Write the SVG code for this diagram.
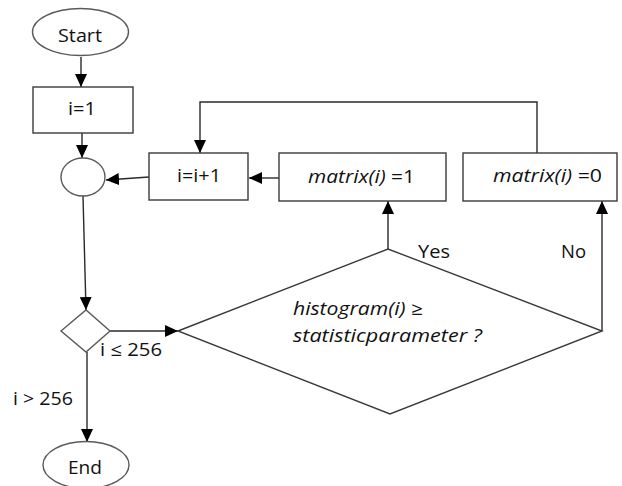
<svg xmlns="http://www.w3.org/2000/svg" width="622" height="486" viewBox="0 0 622 486">
  <style>
    .shape { fill: #ffffff; stroke: #3a3a3a; stroke-width: 1.4; }
    .term { fill: #ffffff; stroke: #5a5a5a; stroke-width: 1.4; }
    .edge { fill: none; stroke: #2a2a2a; stroke-width: 1.4; }
    text { font-family: "Open Sans", "Liberation Sans", sans-serif; font-size: 18px; fill: #111111; }
    .it { font-style: italic; }
  </style>
  <defs>
    <marker id="arrow" markerUnits="userSpaceOnUse" markerWidth="14" markerHeight="12" refX="13" refY="6" orient="auto">
      <path d="M0,0 L13,6 L0,12 Z" fill="#000000"/>
    </marker>
  </defs>

  <rect width="622" height="486" fill="#ffffff"/>

  <!-- connectors -->
  <g id="connectors">
    <line class="edge" x1="81" y1="57" x2="81" y2="87" marker-end="url(#arrow)"/>
    <line class="edge" x1="82" y1="133" x2="82" y2="158" marker-end="url(#arrow)"/>
    <line class="edge" x1="149" y1="177" x2="106" y2="180" marker-end="url(#arrow)"/>
    <line class="edge" x1="279" y1="178" x2="249" y2="178" marker-end="url(#arrow)"/>
    <polyline class="edge" points="537,153 537,102 200,102 200,153" marker-end="url(#arrow)"/>
    <line class="edge" x1="388" y1="249" x2="388" y2="201" marker-end="url(#arrow)"/>
    <line class="edge" x1="602" y1="331" x2="602" y2="201" marker-end="url(#arrow)"/>
    <line class="edge" x1="83" y1="196" x2="86" y2="310" marker-end="url(#arrow)"/>
    <line class="edge" x1="110" y1="331" x2="178" y2="331" marker-end="url(#arrow)"/>
    <line class="edge" x1="87" y1="352" x2="87" y2="442" marker-end="url(#arrow)"/>
    <text x="100" y="356" textLength="62" lengthAdjust="spacingAndGlyphs">i ≤ 256</text>
    <text x="13" y="405" textLength="60" lengthAdjust="spacingAndGlyphs">i &gt; 256</text>
    <text x="418" y="258" textLength="32" lengthAdjust="spacingAndGlyphs">Yes</text>
    <text x="561" y="258" textLength="25" lengthAdjust="spacingAndGlyphs">No</text>
  </g>

  <g id="start">
    <ellipse class="term" cx="80.5" cy="32" rx="48" ry="23.5"/>
    <text x="58" y="42" textLength="44" lengthAdjust="spacingAndGlyphs">Start</text>
  </g>

  <g id="init">
    <rect class="shape" x="33" y="87" width="100" height="46"/>
    <text x="68" y="115" textLength="28" lengthAdjust="spacingAndGlyphs">i=1</text>
  </g>

  <g id="join">
    <ellipse class="term" cx="83" cy="177" rx="22" ry="19"/>
  </g>

  <g id="increment">
    <rect class="shape" x="149" y="153" width="99" height="47"/>
    <text x="177" y="182" textLength="44" lengthAdjust="spacingAndGlyphs">i=i+1</text>
  </g>

  <g id="set-one">
    <rect class="shape" x="279" y="153" width="167" height="48"/>
    <text x="308" y="183" textLength="107" lengthAdjust="spacingAndGlyphs"><tspan class="it">matrix(i)</tspan> =1</text>
  </g>

  <g id="set-zero">
    <rect class="shape" x="463" y="153" width="154" height="48"/>
    <text x="493" y="182" textLength="109" lengthAdjust="spacingAndGlyphs"><tspan class="it">matrix(i)</tspan> =0</text>
  </g>

  <g id="loop-check">
    <polygon class="term" points="61,331 86,310 110,331 86,352"/>
  </g>

  <g id="threshold-check">
    <polygon class="shape" points="178,331 388,249 602,331 390,414"/>
    <text class="it" x="293" y="315" textLength="130" lengthAdjust="spacingAndGlyphs">histogram(i) ≥</text>
    <text class="it" x="293" y="342" textLength="189" lengthAdjust="spacingAndGlyphs">statisticparameter ?</text>
  </g>

  <g id="end">
    <ellipse class="term" cx="86" cy="465" rx="43" ry="23.5"/>
    <text x="68" y="474" textLength="34" lengthAdjust="spacingAndGlyphs">End</text>
  </g>
</svg>
